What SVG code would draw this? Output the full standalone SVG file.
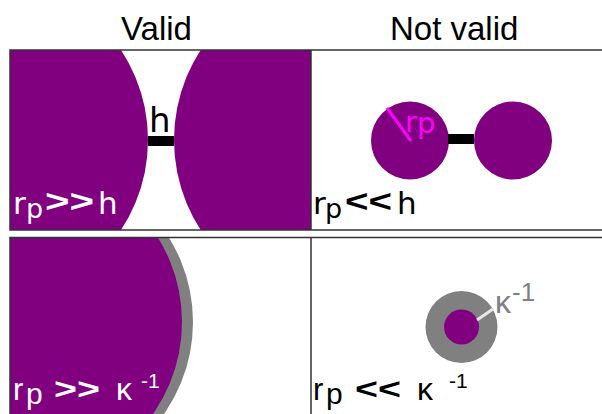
<svg xmlns="http://www.w3.org/2000/svg" width="602" height="414" viewBox="0 0 602 414">
  <style>
    .title { font-family: "Liberation Sans", Arial, sans-serif; font-size: 33px; fill: #000; }
    .lab { font-family: "DejaVu Sans", sans-serif; }
    .lab2 { font-family: "Liberation Sans", Arial, sans-serif; }
    .b { font-weight: bold; font-family: "Liberation Sans", Arial, sans-serif; }
    .purple { fill: #800080; }
    .gray { fill: #808080; }
    .frame { stroke: #333; stroke-width: 1.5; fill: none; }
  </style>
  <defs>
    <clipPath id="clipTL"><rect x="10" y="50" width="301" height="180"/></clipPath>
    <clipPath id="clipBL"><rect x="10" y="237.5" width="301" height="177"/></clipPath>
  </defs>
  <rect width="602" height="414" fill="#fff"/>

  <g id="titles">
    <text class="title" x="121" y="40">Valid</text>
    <text class="title" x="390" y="40">Not valid</text>
  </g>

  <g id="valid-h">
    <g clip-path="url(#clipTL)">
      <circle class="purple" cx="-15.5" cy="140" r="163.5"/>
      <circle class="purple" cx="339" cy="140" r="165"/>
    </g>
    <rect x="148" y="136" width="26" height="10" fill="#000"/>
    <text class="lab" x="149" y="132" font-size="34" fill="#000">h</text>
    <g fill="#fff">
      <text class="lab" x="13" y="214" font-size="31">r</text>
      <text class="lab" x="26" y="217.5" font-size="27">p</text>
      <text class="b" x="45" y="212" font-size="32" textLength="49" lengthAdjust="spacingAndGlyphs">&gt;&gt;</text>
      <text class="lab" x="98" y="214" font-size="31">h</text>
    </g>
  </g>

  <g id="notvalid-h">
    <circle class="purple" cx="410" cy="140.5" r="39"/>
    <circle class="purple" cx="513" cy="140.5" r="39"/>
    <rect x="448" y="134" width="26" height="10" fill="#000"/>
    <line x1="387" y1="108" x2="411" y2="141" stroke="#ff00ff" stroke-width="3"/>
    <text class="lab" x="405" y="131.5" font-size="29" fill="#ff00ff">r<tspan dy="1.5">p</tspan></text>
    <g fill="#000">
      <text class="lab" x="313" y="214" font-size="31">r</text>
      <text class="lab" x="325" y="217.5" font-size="27">p</text>
      <text class="b" x="345" y="212" font-size="32" textLength="47" lengthAdjust="spacingAndGlyphs">&lt;&lt;</text>
      <text class="lab" x="397" y="214" font-size="31">h</text>
    </g>
  </g>

  <g id="valid-kappa">
    <g clip-path="url(#clipBL)">
      <circle class="gray" cx="33" cy="322" r="160"/>
      <circle class="purple" cx="22" cy="322" r="160"/>
    </g>
    <g fill="#fff">
      <text class="lab2" x="13" y="400" font-size="31">r</text>
      <text class="lab2" x="26" y="404" font-size="30">p</text>
      <text class="b" x="54" y="399" font-size="30" textLength="46" lengthAdjust="spacingAndGlyphs">&gt;&gt;</text>
      <text class="lab2" x="116" y="400" font-size="32">κ</text>
      <text class="lab2" x="141" y="388" font-size="21">-1</text>
    </g>
  </g>

  <g id="notvalid-kappa">
    <circle class="gray" cx="461.5" cy="327" r="36"/>
    <circle class="purple" cx="461.5" cy="327" r="17.5"/>
    <line x1="477" y1="320" x2="493" y2="309" stroke="#e6e6e6" stroke-width="3"/>
    <text class="lab2" x="495" y="313" font-size="32" fill="#808080">κ</text>
    <text class="lab2" x="512" y="301" font-size="26" fill="#808080">-1</text>
    <g fill="#000">
      <text class="lab2" x="313" y="400" font-size="31">r</text>
      <text class="lab2" x="326" y="404" font-size="30">p</text>
      <text class="b" x="355" y="399" font-size="30" textLength="46" lengthAdjust="spacingAndGlyphs">&lt;&lt;</text>
      <text class="lab2" x="417" y="400" font-size="32">κ</text>
      <text class="lab2" x="449" y="388" font-size="21">-1</text>
    </g>
  </g>

  <g id="frame" class="frame">
    <path d="M602 50 H10 V230 H602 M311 50 V230"/>
    <path d="M602 237.5 H10 V414 M311 237.5 V414"/>
  </g>
</svg>
